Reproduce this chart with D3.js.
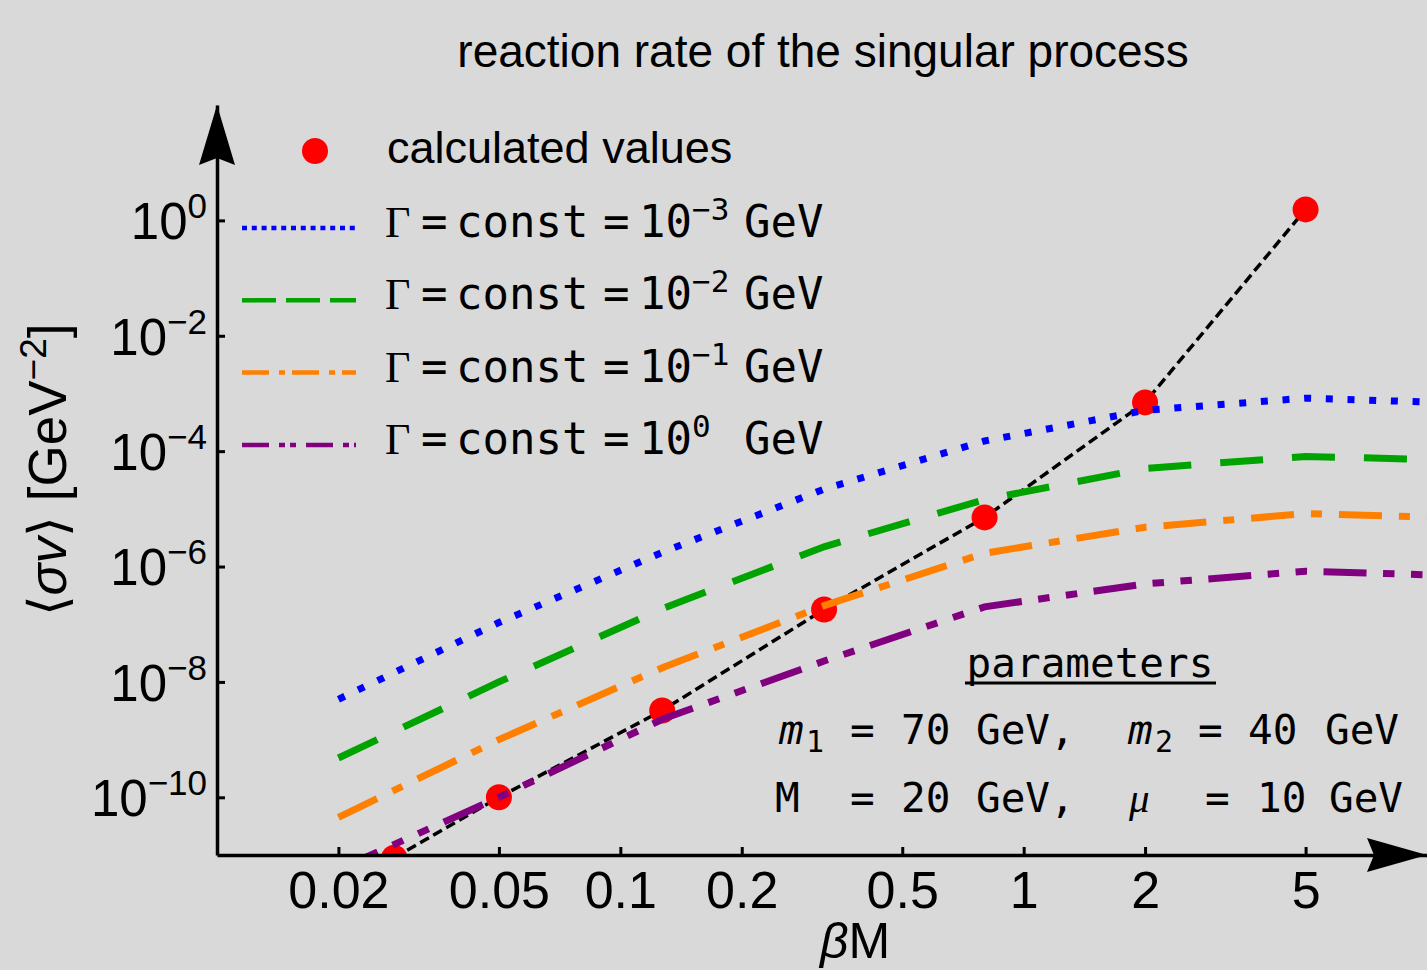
<!DOCTYPE html>
<html>
<head>
<meta charset="utf-8">
<script src="https://cdn.jsdelivr.net/npm/d3@7"></script>
<style>
  html, body { margin: 0; padding: 0; background: #d9d9d9; }
  svg { display: block; }
  .tick text { font-family: "Liberation Sans", Arial, sans-serif; }
</style>
</head>
<body>
<div id="chart"></div>
<script>
// sample points of the curves (beta*M)
const xSamples = [0.02, 0.05, 0.128, 0.32, 0.8, 2, 5, 10];
// <sigma v> for each constant width
const gammaE3 = [5.0e-9, 1.07e-7, 1.8e-6, 2.2e-5, 1.5e-4, 5.1e-4, 8.3e-4, 7.1e-4];
const gammaE2 = [4.8e-10, 1.0e-8, 1.9e-7, 2.2e-6, 1.45e-5, 5.0e-5, 8.1e-5, 7.2e-5];
const gammaE1 = [4.5e-11, 1.0e-9, 1.8e-8, 2.1e-7, 1.7e-6, 4.8e-6, 8.3e-6, 7.2e-6];
const gammaE0 = [5.6e-12, 1.0e-10, 2.3e-9, 2.3e-8, 2.0e-7, 5.0e-7, 8.3e-7, 7.2e-7];

// calculated values (red dots)
const calcX = [0.0275, 0.05, 0.127, 0.32, 0.8, 2, 5];
const calcY = [9e-12, 1e-10, 3.2e-9, 1.8e-7, 7.1e-6, 7.0e-4, 1.55];

const xTicks = [0.02, 0.05, 0.1, 0.2, 0.5, 1, 2, 5];
const xTickLabels = ["0.02", "0.05", "0.1", "0.2", "0.5", "1", "2", "5"];
const yTickExps = [0, -2, -4, -6, -8, -10];

const seriesNames = ["-3", "-2", "-1", "0"];
const seriesColors = ["#0000ff", "#00a300", "#ff8000", "#800080"];
const seriesDash = ["7,14.7", "43,29", "43,17,11,17", "43,16.5,11.5,16.5,11.5,16.5"];
const legendDash = ["5,4.8", "34,10", "27,10,6,7", "27,10,6,5,6,10"];
const seriesValues = [gammaE3, gammaE2, gammaE1, gammaE0];

const W = 1427, H = 970;
const MARGIN = {LEFT: 217, RIGHT: 0, TOP: 105, BOTTOM: 115};
const SANS = '"Liberation Sans", Arial, sans-serif';
const MONO = '"DejaVu Sans Mono", monospace';
const SERIF = '"Liberation Serif", "DejaVu Serif", serif';

const svg = d3.select("#chart").append("svg")
    .attr("width", W)
    .attr("height", H);

svg.append("rect").attr("width", W).attr("height", H).attr("fill", "#d9d9d9");

const x = d3.scaleLog().domain([0.01, 10]).range([MARGIN.LEFT, W - MARGIN.RIGHT]);
const y = d3.scaleLog().domain([1e-11, 1e2]).range([H - MARGIN.BOTTOM, MARGIN.TOP]);

svg.append("clipPath").attr("id", "plotClip")
    .append("rect")
    .attr("x", x.range()[0]).attr("y", y.range()[1])
    .attr("width", x.range()[1] - x.range()[0])
    .attr("height", y.range()[0] - y.range()[1]);

// title
svg.append("text")
    .attr("x", 823).attr("y", 67)
    .attr("text-anchor", "middle")
    .style("font-family", SANS)
    .style("font-size", "46px")
    .text("reaction rate of the singular process");

const plot = svg.append("g").attr("clip-path", "url(#plotClip)");

// black dashed line through calculated values
const calcData = calcX.map((d, i) => ({x: d, y: calcY[i]}));
const line = d3.line().x(d => x(d.x)).y(d => y(d.y));

plot.append("path")
    .attr("d", line(calcData))
    .attr("fill", "none")
    .attr("stroke", "#000")
    .attr("stroke-width", 3.5)
    .attr("stroke-dasharray", "10,5");

plot.selectAll(".calc")
    .data(calcData)
    .enter().append("circle")
    .attr("class", "calc")
    .attr("cx", d => x(d.x))
    .attr("cy", d => y(d.y))
    .attr("r", 13)
    .attr("fill", "#ff0000");

// width curves
seriesValues.forEach((vals, i) => {
    const data = xSamples.map((d, j) => ({x: d, y: vals[j]}));
    plot.append("path")
        .attr("d", line(data))
        .attr("fill", "none")
        .attr("stroke", seriesColors[i])
        .attr("stroke-width", 7)
        .attr("stroke-linecap", "butt")
        .attr("stroke-dasharray", seriesDash[i]);
});

// axes
const xAxisCall = d3.axisBottom(x)
    .tickValues(xTicks)
    .tickFormat((d, i) => xTickLabels[i])
    .tickSizeInner(-8)
    .tickSizeOuter(0);
const xAxis = svg.append("g")
    .attr("transform", `translate(0, ${y.range()[0]})`)
    .call(xAxisCall);
xAxis.select(".domain").attr("stroke-width", 3.5);
xAxis.selectAll(".tick line").attr("stroke-width", 3);
xAxis.selectAll(".tick text")
    .attr("y", 53).attr("dy", null)
    .style("font-size", "52px")
    .attr("fill", "#000");

const yAxisCall = d3.axisLeft(y)
    .tickValues(yTickExps.map(e => Math.pow(10, e)))
    .tickFormat(() => "")
    .tickSizeInner(-8)
    .tickSizeOuter(0);
const yAxis = svg.append("g")
    .attr("transform", `translate(${x.range()[0]}, 0)`)
    .call(yAxisCall);
yAxis.select(".domain").attr("stroke-width", 3.5);
yAxis.selectAll(".tick line").attr("stroke-width", 3);
yAxis.selectAll(".tick text")
    .attr("x", -10)
    .attr("dy", "0.36em")
    .attr("text-anchor", "end")
    .style("font-size", "51px")
    .attr("fill", "#000")
    .each(function (d, i) {
        const t = d3.select(this);
        const e = yTickExps[i];
        t.append("tspan").text("10");
        t.append("tspan")
            .attr("dy", -21)
            .style("font-size", "35px")
            .text(e < 0 ? "\u2212" + (-e) : String(e));
    });

// arrow heads
const x0 = x.range()[0], x1 = x.range()[1], y0 = y.range()[0], y1 = y.range()[1];
svg.append("path")
    .attr("d", `M${x0},${y1} L${x0 + 18},${y1 + 60} L${x0},${y1 + 53} L${x0 - 18},${y1 + 60} Z`)
    .attr("fill", "#000");
svg.append("path")
    .attr("d", `M${x1},${y0} L${x1 - 60},${y0 - 17} L${x1 - 53},${y0} L${x1 - 60},${y0 + 17} Z`)
    .attr("fill", "#000");

// axis labels
const xLabel = svg.append("text")
    .attr("x", 855).attr("y", 958)
    .attr("text-anchor", "middle")
    .style("font-family", SANS)
    .style("font-size", "50px");
xLabel.append("tspan").style("font-style", "italic").text("\u03b2");
xLabel.append("tspan").text("M");

const yLabel = svg.append("text")
    .attr("transform", "translate(66, 470) rotate(-90)")
    .attr("text-anchor", "middle")
    .style("font-family", SANS)
    .style("font-size", "53px");
yLabel.append("tspan").text("\u27e8");
yLabel.append("tspan").style("font-style", "italic").text("\u03c3v");
yLabel.append("tspan").text("\u27e9 [GeV");
yLabel.append("tspan").attr("dy", -20).style("font-size", "37px").text("\u2212" + "2");
yLabel.append("tspan").attr("dy", 20).text("]");

// legend
const legend = svg.append("g");
legend.append("circle").attr("cx", 315).attr("cy", 151).attr("r", 13).attr("fill", "#ff0000");
legend.append("text")
    .attr("x", 387).attr("y", 163)
    .style("font-family", SANS)
    .style("font-size", "45px")
    .text("calculated values");

const legendRow = legend.selectAll(".legendRow")
    .data(seriesNames)
    .enter().append("g")
    .attr("class", "legendRow")
    .attr("transform", (d, i) => `translate(0, ${228 + i * 72.3})`);

legendRow.append("line")
    .attr("x1", 242).attr("x2", 356)
    .attr("stroke", (d, i) => seriesColors[i])
    .attr("stroke-width", 4.5)
    .attr("stroke-dasharray", (d, i) => legendDash[i]);

const legendText = legendRow.append("text")
    .attr("y", 9)
    .style("font-family", MONO)
    .style("font-size", "44px");
legendText.append("tspan").attr("x", 385).style("font-family", SERIF).text("\u0393");
legendText.append("tspan").attr("x", 421).text("=");
legendText.append("tspan").attr("x", 456).text("const");
legendText.append("tspan").attr("x", 603).text("=");
legendText.append("tspan").attr("x", 639).text("10");
legendText.append("tspan").attr("x", 692).attr("dy", -17).style("font-size", "31px")
    .text(d => d === "0" ? "0" : d.replace("-", "\u2212"));
legendText.append("tspan").attr("x", 744).attr("dy", 17).text("GeV");

// parameters
const params = svg.append("g").style("font-family", MONO).style("font-size", "41px");
params.append("text").attr("x", 1090).attr("y", 677).attr("text-anchor", "middle").text("parameters");
params.append("line")
    .attr("x1", 965).attr("x2", 1216).attr("y1", 683).attr("y2", 683)
    .attr("stroke", "#000").attr("stroke-width", 3);

const row1 = params.append("text").attr("y", 744);
row1.append("tspan").attr("x", 779).style("font-style", "italic").text("m");
row1.append("tspan").attr("x", 806).attr("dy", 8).style("font-size", "30px").text("1");
row1.append("tspan").attr("x", 850).attr("dy", -8).text("=");
row1.append("tspan").attr("x", 901).text("70");
row1.append("tspan").attr("x", 976).text("GeV,");
row1.append("tspan").attr("x", 1128).style("font-style", "italic").text("m");
row1.append("tspan").attr("x", 1155).attr("dy", 8).style("font-size", "30px").text("2");
row1.append("tspan").attr("x", 1198).attr("dy", -8).text("=");
row1.append("tspan").attr("x", 1248).text("40");
row1.append("tspan").attr("x", 1325).text("GeV");

const row2 = params.append("text").attr("y", 812);
row2.append("tspan").attr("x", 775).text("M");
row2.append("tspan").attr("x", 850).text("=");
row2.append("tspan").attr("x", 901).text("20");
row2.append("tspan").attr("x", 976).text("GeV,");
row2.append("tspan").attr("x", 1129).style("font-family", SERIF).style("font-style", "italic").text("\u03bc");
row2.append("tspan").attr("x", 1205).text("=");
row2.append("tspan").attr("x", 1257).text("10");
row2.append("tspan").attr("x", 1329).text("GeV");
</script>
</body>
</html>
